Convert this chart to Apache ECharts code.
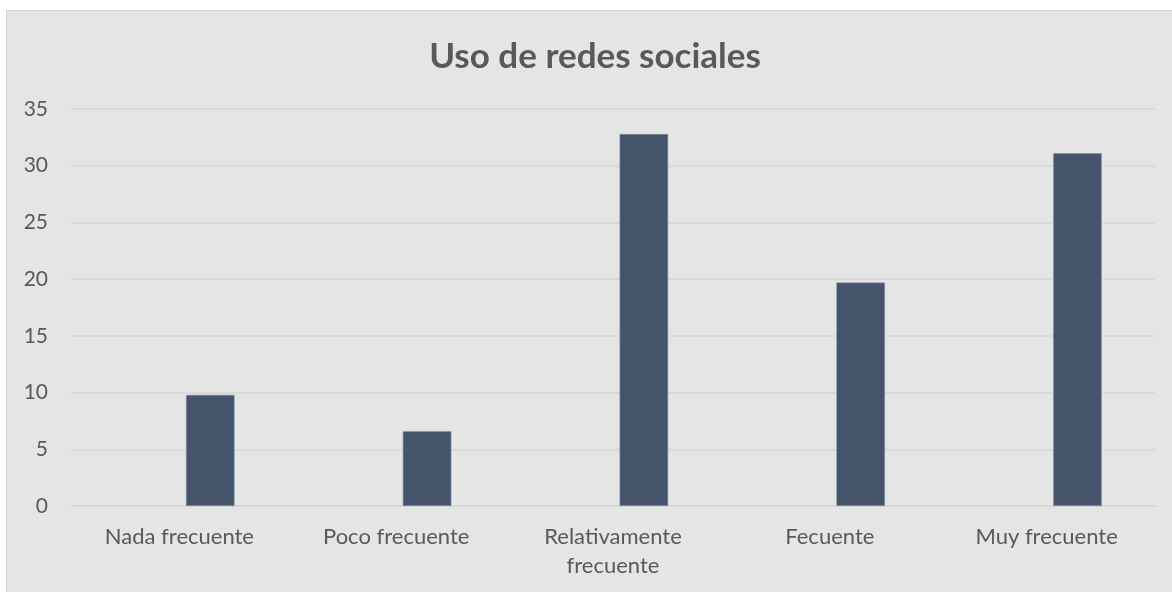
<!DOCTYPE html>
<html>
<head>
<meta charset="utf-8">
<script src="https://cdn.jsdelivr.net/npm/echarts@6/dist/echarts.min.js"></script>
<style>
  html, body { margin: 0; padding: 0; background: #ffffff; overflow: hidden; width: 1172px; height: 592px; }
  #frame { position: absolute; left: 6px; top: 10px; width: 1180px; height: 600px; background: #e5e5e5; border: 1px solid #d3d3d3; }
  #chart { position: absolute; left: 0; top: 0; width: 1166px; height: 582px; }
</style>
</head>
<body>
<div id="frame"><div id="chart"></div></div>
<script>
const titleText = 'Uso de redes sociales';
const categories = ['Nada frecuente', 'Poco frecuente', 'Relativamente\nfrecuente', 'Fecuente', 'Muy frecuente'];
const emptySeries = [null, null, null, null, null];
const values = [9.8, 6.6, 32.8, 19.7, 31.1];
const yTicks = { min: 0, max: 35, interval: 5 };

const chart = echarts.init(document.getElementById('chart'), null, { renderer: 'canvas' });
const fontFamily = 'Lato, "Noto Sans", sans-serif';
chart.setOption({
  backgroundColor: 'transparent',
  animation: false,
  title: {
    text: titleText,
    left: 583,
    top: 23,
    textAlign: 'center',
    textStyle: { fontFamily: fontFamily, fontWeight: 'bold', fontSize: 35, color: '#595959' }
  },
  grid: { left: 64, top: 98, width: 1084, height: 397, containLabel: false },
  xAxis: {
    type: 'category',
    data: categories,
    axisLine: { show: true, lineStyle: { color: '#d6d6d6', width: 1.5 } },
    axisTick: { show: false },
    axisLabel: { interval: 0, margin: 16, fontFamily: fontFamily, fontSize: 22, color: '#595959', lineHeight: 29 },
    splitLine: { show: false }
  },
  yAxis: {
    type: 'value',
    min: yTicks.min,
    max: yTicks.max,
    interval: yTicks.interval,
    axisLine: { show: false },
    axisTick: { show: false },
    axisLabel: { margin: 23, fontFamily: fontFamily, fontSize: 21, color: '#595959' },
    splitLine: { show: true, lineStyle: { color: '#d6d6d6', width: 1.5 } }
  },
  series: [
    { type: 'bar', data: emptySeries, barWidth: 48.6, barGap: '27%', itemStyle: { color: '#5b7b9a' } },
    { type: 'bar', data: values, barWidth: 48.6, barGap: '27%', itemStyle: { color: '#44546A', borderColor: '#8795a8', borderWidth: 0.6 } }
  ]
});
</script>
</body>
</html>
